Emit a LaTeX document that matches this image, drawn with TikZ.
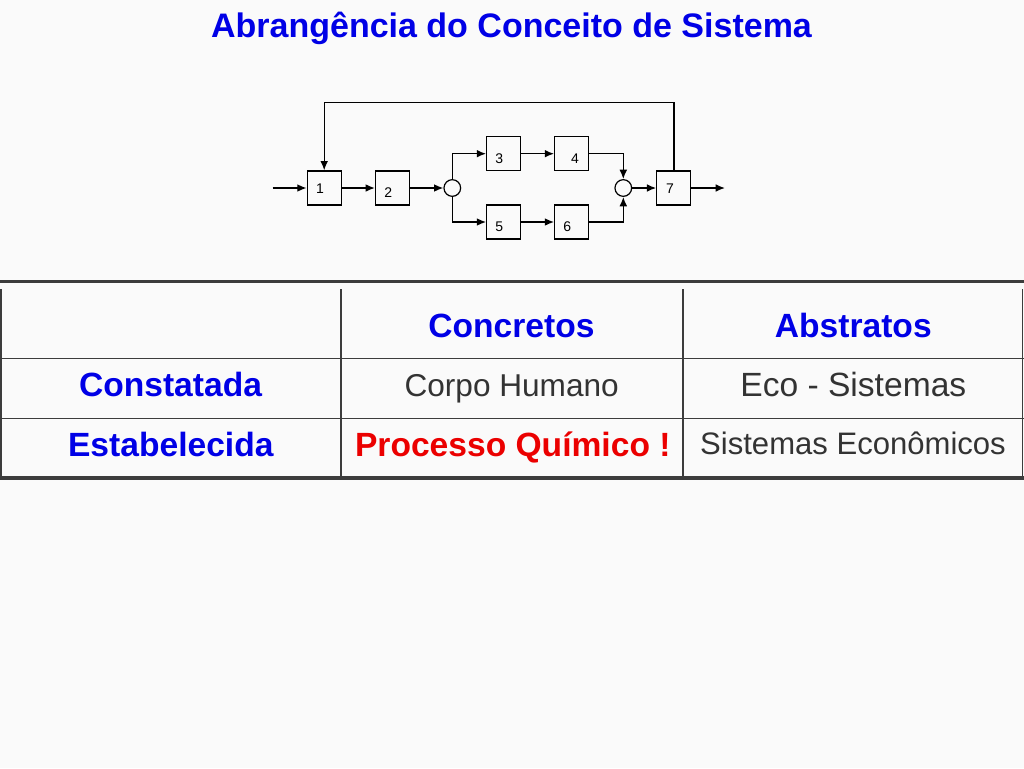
\documentclass[tikz,border=0pt]{standalone}
\usepackage{fontspec}
\setmainfont{Liberation Sans}
\usetikzlibrary{arrows.meta}
\definecolor{bg}{RGB}{250,250,250}
\definecolor{tblue}{RGB}{0,0,230}
\definecolor{tred}{RGB}{235,0,0}
\definecolor{tgray}{RGB}{51,51,51}
\definecolor{rule}{RGB}{60,60,60}
\tikzset{
  blk/.style={draw=black, line width=0.9pt, minimum size=25.5pt, inner sep=0pt},
  junc/.style={draw=black, line width=0.9pt, circle, minimum size=12.5pt, inner sep=0pt},
  dig/.style={inner sep=0pt, font=\fontsize{10.5}{12}\selectfont},
  wire/.style={line width=1.05pt, -{Latex[length=7pt,width=5.8pt]}},
  txt/.style={anchor=base, inner sep=0pt},
  hd/.style={txt, text=tblue, font=\fontsize{25.2}{30}\selectfont\bfseries},
  thick rule/.style={draw=rule, line width=2.4pt},
  thin rule/.style={draw=rule, line width=1.1pt},
}
\begin{document}
\begin{tikzpicture}[x=0.75pt,y=-0.75pt]
\fill[bg] (0,0) rectangle (1024,768);
\useasboundingbox (0,0) rectangle (1024,768);

% title
\node[txt, text=tblue, font=\fontsize{25.5}{30}\selectfont\bfseries] (title) at (511.5,37) {Abrangência do Conceito de Sistema};

% block diagram
\node[blk] (b1) at (324.2,188) {};
\node[blk] (b2) at (392.5,188) {};
\node[blk] (b3) at (503.7,153.7) {};
\node[blk] (b4) at (571.7,153.7) {};
\node[blk] (b5) at (503.7,222) {};
\node[blk] (b6) at (571.7,222) {};
\node[blk] (b7) at (673.8,188) {};
\node[junc] (c1) at (452.3,188) {};
\node[junc] (c2) at (623.3,188) {};
\node[dig] (d1) at (320,189) {1};
\node[dig] (d2) at (388.3,192.5) {2};
\node[dig] (d3) at (499.3,158.3) {3};
\node[dig] (d4) at (575,158.3) {4};
\node[dig] (d5) at (499.3,226.7) {5};
\node[dig] (d6) at (567.3,226.7) {6};
\node[dig] (d7) at (670,189) {7};
\coordinate (in) at (272.7,188);
\coordinate (out) at (725,188);
\coordinate (fb) at (0,102.3);

\draw[wire] (in) -- (b1.west);
\draw[wire] (b1.east) -- (b2.west);
\draw[wire] (b2.east) -- (c1.west);
\draw[wire] (c1.north) |- (b3.west);
\draw[wire] (c1.south) |- (b5.west);
\draw[wire] (b3.east) -- (b4.west);
\draw[wire] (b5.east) -- (b6.west);
\draw[wire] (b4.east) -| (c2.north);
\draw[wire] (b6.east) -| (c2.south);
\draw[wire] (c2.east) -- (b7.west);
\draw[wire] (b7.east) -- (out);
\draw[wire] (b7.north) -- (b7.north |- fb) -- (b1.north |- fb) -- (b1.north);

% table rules
\draw[thick rule] (0,281.7) -- (1024,281.7);
\draw[thick rule] (0,478) -- (1024,478);
\draw[thin rule] (0,358.3) -- (1024,358.3);
\draw[thin rule] (0,418.3) -- (1024,418.3);
\draw[draw=rule, line width=1.5pt] (1,289) -- (1,478);
\draw[thin rule] (341,289) -- (341,478);
\draw[thin rule] (683,289) -- (683,478);
\draw[thin rule] (1022.7,289) -- (1022.7,478);

% table text
\node[hd] (h1) at (511.5,337.5) {Concretos};
\node[hd] (h2) at (853.3,337) {Abstratos};
\node[hd] (r1) at (170.5,396.7) {Constatada};
\node[hd] (r2) at (170.8,456) {Estabelecida};
\node[txt, text=tgray, font=\fontsize{23.7}{28}\selectfont] (c11) at (511.7,396.7) {Corpo Humano};
\node[txt, text=tgray, font=\fontsize{25.2}{30}\selectfont] (c12) at (853.3,396.7) {Eco - Sistemas};
\node[txt, text=tred, font=\fontsize{25.2}{30}\selectfont\bfseries] (c21) at (512.8,456.5) {Processo Químico !};
\node[txt, text=tgray, font=\fontsize{23.3}{28}\selectfont] (c22) at (853,454) {Sistemas Econômicos};
\end{tikzpicture}
\end{document}
